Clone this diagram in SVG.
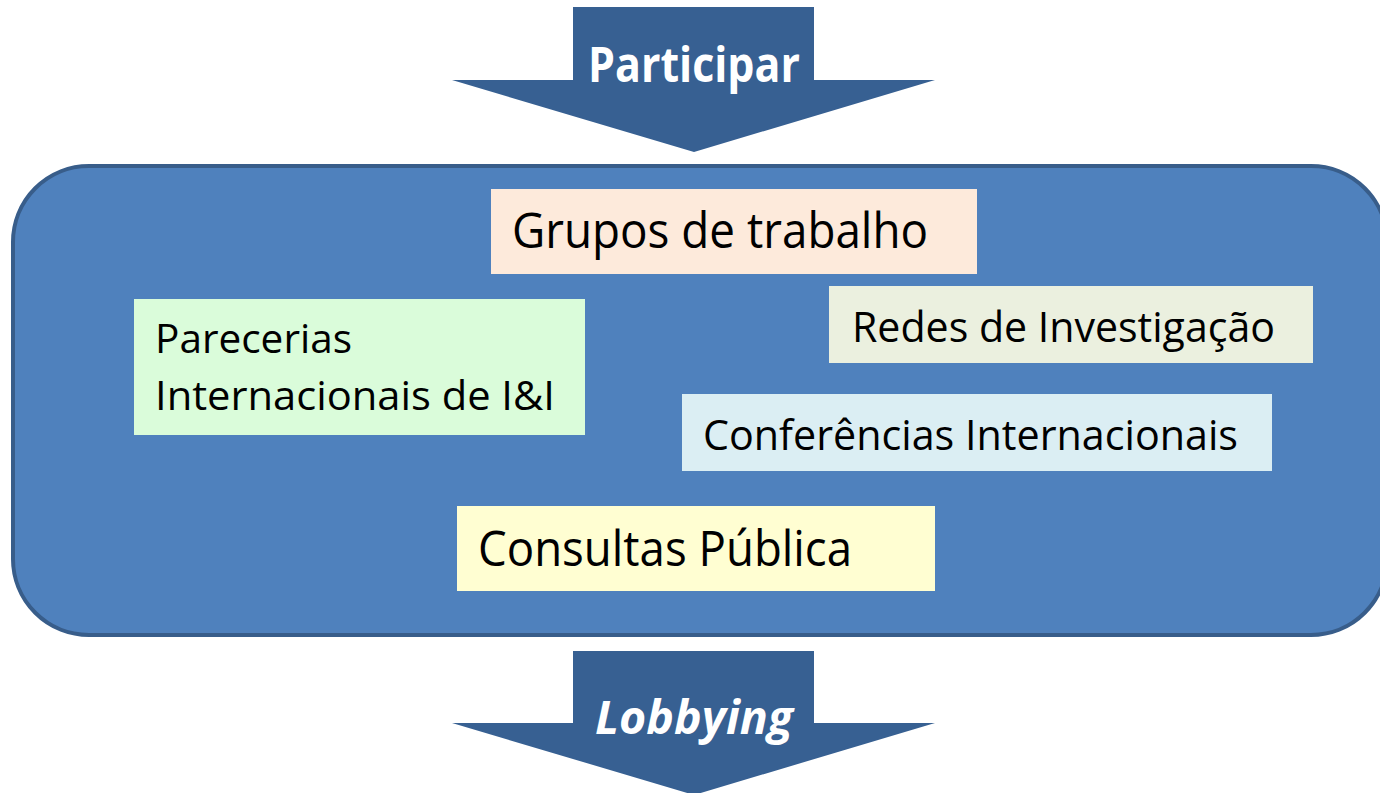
<svg xmlns="http://www.w3.org/2000/svg" width="1380" height="793" viewBox="0 0 1380 793">
  <style>
    .arrow { fill: #376092; }
    .title { font-family: "Open Sans", "Liberation Sans", sans-serif; font-weight: bold; fill: #ffffff; text-anchor: middle; }
    .lbl { font-family: "Open Sans", "Liberation Sans", sans-serif; fill: #000000; }
    .container { fill: #4F81BD; stroke: #385D8A; stroke-width: 4; }
  </style>
  <rect width="1380" height="793" fill="#ffffff"/>
  <g id="participar">
    <polygon class="arrow" points="573,7 814,7 814,80 935,80 694,152 452,80 573,80"/>
    <text class="title" x="694" y="82" font-size="48" textLength="212" lengthAdjust="spacingAndGlyphs">Participar</text>
  </g>
  <g id="container">
    <rect class="container" x="13" y="166" width="1374" height="469" rx="76" ry="76"/>
  </g>
  <g id="grupos">
    <rect x="491" y="189" width="486" height="85" fill="#FDEADB"/>
    <text class="lbl" x="512" y="248" font-size="49" textLength="416" lengthAdjust="spacingAndGlyphs">Grupos de trabalho</text>
  </g>
  <g id="parecerias">
    <rect x="134" y="299" width="451" height="136" fill="#DAFCDA"/>
    <text class="lbl" x="155" y="353" font-size="40" textLength="197" lengthAdjust="spacingAndGlyphs">Parecerias</text>
    <text class="lbl" x="155" y="410" font-size="40" textLength="400" lengthAdjust="spacingAndGlyphs">Internacionais de I&amp;I</text>
  </g>
  <g id="redes">
    <rect x="829" y="286" width="484" height="77" fill="#EBF0DF"/>
    <text class="lbl" x="852" y="342" font-size="42" textLength="423" lengthAdjust="spacingAndGlyphs">Redes de Investigação</text>
  </g>
  <g id="conferencias">
    <rect x="682" y="394" width="590" height="77" fill="#DBEEF3"/>
    <text class="lbl" x="703" y="450" font-size="42" textLength="535" lengthAdjust="spacingAndGlyphs">Conferências Internacionais</text>
  </g>
  <g id="consultas">
    <rect x="457" y="506" width="478" height="85" fill="#FFFED2"/>
    <text class="lbl" x="478" y="566" font-size="49" textLength="374" lengthAdjust="spacingAndGlyphs">Consultas Pública</text>
  </g>
  <g id="lobbying">
    <polygon class="arrow" points="573,651 814,651 814,723 935,723 694,795 452,723 573,723"/>
    <text class="title" x="694" y="734" font-size="47" font-style="italic" textLength="198" lengthAdjust="spacingAndGlyphs">Lobbying</text>
  </g>
  <g id="connectors"></g>
</svg>
